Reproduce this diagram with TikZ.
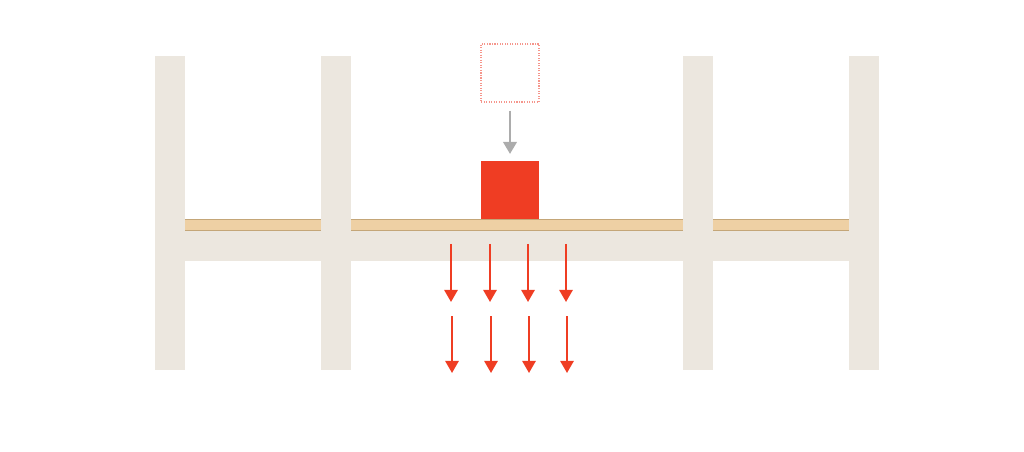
\documentclass[tikz,border=0pt]{standalone}
\usepackage{tikz}
\usetikzlibrary{arrows.meta,positioning}
\definecolor{frame1}{RGB}{236,231,223}
\definecolor{plank1}{RGB}{238,208,164}
\definecolor{plankedge}{RGB}{196,166,120}
\definecolor{red1}{RGB}{239,61,35}
\definecolor{pink1}{RGB}{245,150,140}
\definecolor{gray1}{RGB}{172,172,172}

\begin{document}
\begin{tikzpicture}[x=0.025cm,y=-0.025cm,
    load/.style={fill=red1, inner sep=0pt, minimum width=1.45cm, minimum height=1.45cm},
    ghost/.style={draw=pink1, densely dotted, line width=0.8pt, inner sep=0pt, minimum width=1.45cm, minimum height=1.45cm},
    drop/.style={-{Triangle[length=0.3cm,width=0.34cm]}, gray1, line width=1.5pt},
    flow/.style={-{Triangle[length=0.3cm,width=0.33cm]}, red1, line width=1.5pt}]
    \useasboundingbox (0,0) rectangle (1024,452);
    % Plank on the slab
    \fill[plank1] (185,219) rectangle (849,231);
    \draw[plankedge, line width=0.5pt] (185,219.5) -- (849,219.5);
    \draw[plankedge, line width=0.5pt] (185,230.5) -- (849,230.5);
    % Slab
    \fill[frame1] (155,231) rectangle (879,261);
    % Columns
    \foreach \x in {155,321,683,849}{
        \fill[frame1] (\x,56) rectangle (\x+30,370);
    }
    % Load and its former place
    \node[ghost] (ghostbox) at (510,73) {};
    \node[load] (block) at (510,190) {};
    \draw[drop, shorten <=0.2cm, shorten >=0.17cm] (ghostbox.south) -- (block.north);
    % Load passing down through the floor
    \foreach \x [count=\i] in {451,490,528,566}{
        \coordinate (top\i) at (\x,244);
        \coordinate (mid\i) at (\x,302);
        \coordinate (low\i) at (\x+1,316);
        \coordinate (end\i) at (\x+1,373);
        \draw[flow] (top\i) -- (mid\i);
        \draw[flow] (low\i) -- (end\i);
    }
\end{tikzpicture}
\end{document}
